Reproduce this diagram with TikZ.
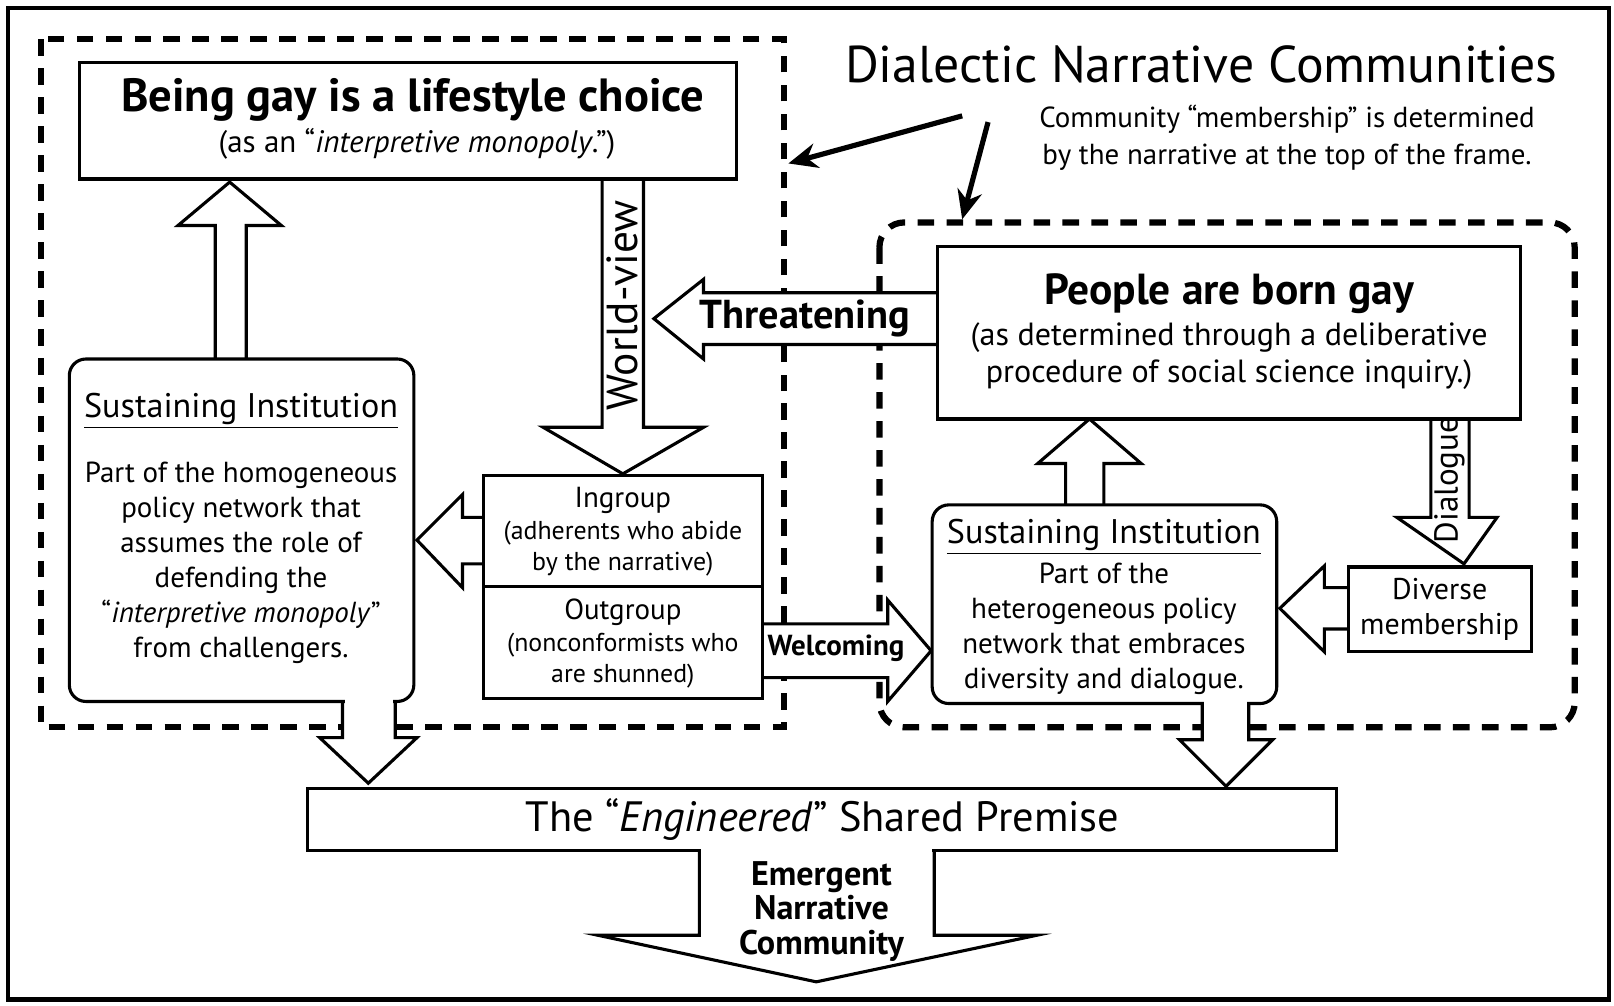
\documentclass[tikz,border=0pt]{standalone}
\usepackage{fontspec}
\setmainfont{PT Sans}
\usetikzlibrary{arrows.meta}
\begin{document}
\begin{tikzpicture}[x=0.5pt,y=-0.5pt,
  ln/.style={line width=1.5pt},
  box/.style={ln,draw,fill=white},
  harrow/.style={ln,draw,fill=white,line join=miter},
  frame/.style={line width=3pt,dash pattern=on 8pt off 6pt},
  txt/.style={align=center,inner sep=0pt}]
\useasboundingbox (0,0) rectangle (1560,972);
\draw[line width=2pt] (8,8) rectangle (1555,966);
% dashed frames
\draw[frame] (40,38) rectangle (758,703);
\draw[frame,rounded corners=12pt] (850,215) rectangle (1522,703);
% title
\node[txt,font=\fontsize{25}{29}\selectfont] (title) at (1161,62) {Dialectic Narrative Communities};
\node[txt,font=\fontsize{14}{17.5}\selectfont] (sub) at (1244,133) {Community ``membership'' is determined\\by the narrative at the top of the frame.};
\coordinate (a1s) at (930,112); \coordinate (a1e) at (762,158);
\coordinate (a2s) at (955,118); \coordinate (a2e) at (930,212);
\draw[line width=2.5pt,-{Stealth[length=14pt,width=12pt]}] (a1s) -- (a1e);
\draw[line width=2.5pt,-{Stealth[length=14pt,width=12pt]}] (a2s) -- (a2e);
% hollow arrows
\draw[harrow] (208,347) -- (208,218) -- (172,218) -- (222,176) -- (272,218) -- (238,218) -- (238,347);
\draw[harrow] (582,170) -- (582,413) -- (525,413) -- (602,458) -- (680,413) -- (622,413) -- (622,170);
\node[txt,rotate=90,font=\fontsize{21}{23}\selectfont] (wv) at (602,295) {World-view};
\draw[harrow] (470,500) -- (447,500) -- (447,478) -- (403,522) -- (447,568) -- (447,545) -- (470,545);
\draw[harrow] (910,283) -- (680,283) -- (680,270) -- (632,308) -- (680,347) -- (680,333) -- (910,333);
\node[txt,font=\bfseries\fontsize{19.5}{22}\selectfont] (thr) at (778,308) {Threatening};
\draw[harrow] (734,603) -- (858,603) -- (858,580) -- (900,629) -- (858,678) -- (858,655) -- (734,655);
\node[txt,font=\bfseries\fontsize{14}{16}\selectfont] (wel) at (808,627) {Welcoming};
\draw[harrow] (1030,492) -- (1030,448) -- (1003,448) -- (1053,405) -- (1103,448) -- (1067,448) -- (1067,492);
\draw[harrow] (1383,402) -- (1383,500) -- (1350,500) -- (1415,545) -- (1447,500) -- (1420,500) -- (1420,402);
\node[txt,rotate=90,font=\fontsize{16}{18}\selectfont] (dia) at (1401,464) {Dialogue};
\draw[harrow] (1306,568) -- (1280,568) -- (1280,547) -- (1237,588) -- (1280,630) -- (1280,608) -- (1306,608);
\draw[harrow] (331,670) -- (331,713) -- (309,713) -- (356,757) -- (403,713) -- (382,713) -- (382,670);
\draw[harrow] (1162,677) -- (1162,715) -- (1140,715) -- (1185,760) -- (1230,715) -- (1207,715) -- (1207,677);
\draw[harrow] (676,815) -- (676,904) -- (578,904) -- (789,949) -- (1002,904) -- (903,904) -- (903,815);
\node[txt,font=\bfseries\fontsize{16.5}{16.5}\selectfont] (emg) at (794,881) {Emergent\\Narrative\\Community};
% boxes
\node[box,minimum width=635*0.5pt,minimum height=113*0.5pt,txt] (lc) at (394.5,116.5) {};
\node[txt,font=\bfseries\fontsize{22.5}{24}\selectfont] at (399,97) {Being gay is a lifestyle choice};
\node[txt,font=\fontsize{15}{17}\selectfont] at (403,139) {(as an ``\textit{interpretive monopoly}.'')};
\node[box,rounded corners=8pt,minimum width=333*0.5pt,minimum height=331*0.5pt] (si1) at (233.5,512.5) {};
\fill[white] (333,660) rectangle (380,690);
\node[txt,font=\fontsize{16.5}{19}\selectfont] at (233,397) {\underline{Sustaining Institution}};
\node[txt,font=\fontsize{14}{17}\selectfont] at (233,544) {Part of the homogeneous\\policy network that\\assumes the role of\\defending the\\``\textit{interpretive monopoly}''\\from challengers.};
\node[box,minimum width=270*0.5pt,minimum height=107*0.5pt] (ing) at (602,513.5) {};
\node[txt,font=\fontsize{14}{16}\selectfont] at (602,484) {Ingroup};
\node[txt,font=\fontsize{12.5}{15}\selectfont] at (602,530) {(adherents who abide\\by the narrative)};
\node[box,minimum width=270*0.5pt,minimum height=108*0.5pt] (outg) at (602,621) {};
\node[txt,font=\fontsize{14}{16}\selectfont] at (602,592) {Outgroup};
\node[txt,font=\fontsize{12.5}{15}\selectfont] at (602,639) {(nonconformists who\\are shunned)};
\node[box,minimum width=564*0.5pt,minimum height=167*0.5pt] (pb) at (1188,321.5) {};
\node[txt,font=\bfseries\fontsize{21}{23}\selectfont] at (1188,284) {People are born gay};
\node[txt,font=\fontsize{15.5}{18}\selectfont] at (1188,344) {(as determined through a deliberative\\procedure of social science inquiry.)};
\node[box,rounded corners=8pt,minimum width=333*0.5pt,minimum height=192*0.5pt] (si2) at (1067.5,584) {};
\fill[white] (1164,670) rectangle (1205,690);
\node[txt,font=\fontsize{16.5}{19}\selectfont] at (1067,519) {\underline{Sustaining Institution}};
\node[txt,font=\fontsize{14}{17}\selectfont] at (1067,608) {Part of the\\heterogeneous policy\\network that embraces\\diversity and dialogue.};
\node[box,minimum width=177*0.5pt,minimum height=82*0.5pt,txt,font=\fontsize{14.5}{17}\selectfont] (div) at (1391.5,589) {Diverse\\membership};
\node[box,minimum width=995*0.5pt,minimum height=60*0.5pt] (prem) at (794.5,792) {};
\fill[white] (678,810) rectangle (901,830);
\node[txt,font=\fontsize{20.5}{22}\selectfont] at (795,792) {The ``\textit{Engineered}'' Shared Premise};
\end{tikzpicture}
\end{document}
